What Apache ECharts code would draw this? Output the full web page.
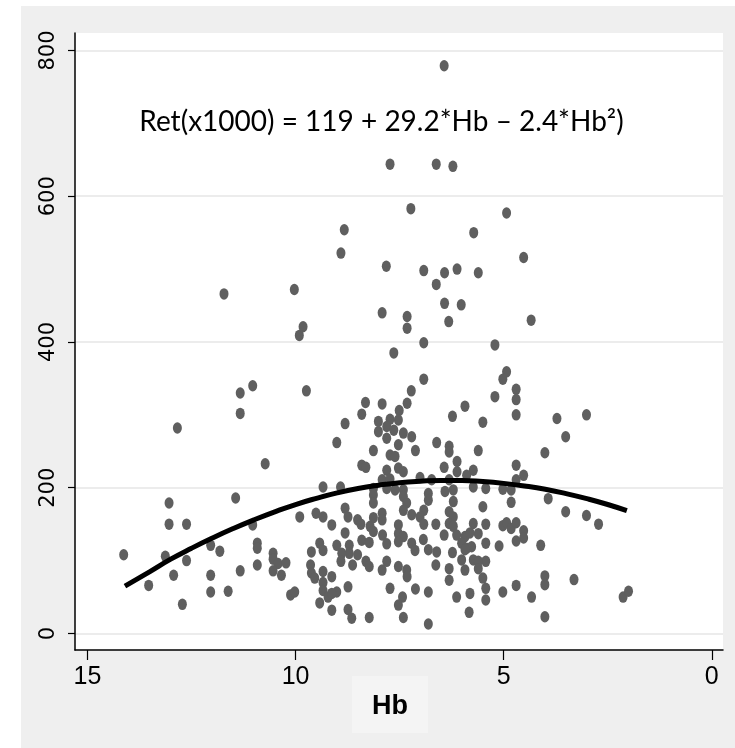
<!DOCTYPE html>
<html><head><meta charset="utf-8">
<script src="https://cdn.jsdelivr.net/npm/echarts@6/dist/echarts.min.js"></script>
<style>
html,body{margin:0;padding:0;background:#ffffff;width:735px;height:748px;overflow:hidden}
#c{position:absolute;left:21px;top:6px;width:714px;height:742px}
</style>
</head><body><div id="c"></div>
<script>
// Tick labels
const xTicks = [0, 5, 10, 15];
const yTicks = [0, 200, 400, 600, 800];
const xTitle = 'Hb';
const equation = 'Ret(x1000) = 119 + 29.2*Hb \u2013 2.4*Hb\u00B2)';

const pointsLeft = [
 [11.03,340],[11.33,330],[11.33,302],[12.84,282],[10.73,233],[11.44,186],[13.04,179],[13.04,150],[12.62,150],[14.13,108],
 [13.13,106],[12.62,100],[12.04,121],[11.82,113],[11.03,149],[10.92,124],[10.92,117],[10.54,110],[10.54,102],[10.42,96],
 [10.23,97],[10.54,86],[10.34,80],[10.92,94],[11.33,86],[12.04,80],[12.93,80],[13.53,66],[12.04,57],[11.62,58],
 [12.72,40],[10.12,53],[10.02,57],[9.90,160],[11.72,466],[10.03,472],[9.91,409],[9.82,421]
];
const pointsTop = [
 [7.73,644],[6.62,644],[6.22,641],[7.23,583],[4.93,577],[8.83,554],[5.72,550],[8.91,522],[4.52,516],[7.82,504],
 [6.92,498],[6.42,495],[6.12,500],[5.61,495],[6.62,479],[6.42,453],[6.02,451],[7.92,440],[7.32,435],[7.32,419],
 [6.32,428],[4.34,430],[6.92,399],[5.21,396],[7.64,385],[4.93,359],[5.02,349],[6.92,349],[9.74,333],[7.22,333],
 [4.70,335],[6.43,779]
];
const pointsRight = [
 [4.70,321],[5.21,325],[4.70,300],[5.50,290],[3.72,295],[3.01,300],[3.51,270],[4.01,248],[4.70,231],[4.52,217],
 [4.70,211],[5.43,199],[5.02,198],[4.82,197],[3.93,185],[5.50,174],[4.82,180],[3.51,167],[3.01,162],[2.72,150],
 [5.43,150],[5.02,148],[4.93,152],[4.82,144],[4.70,152],[4.52,141],[4.52,131],[4.70,127],[5.43,124],[5.11,120],
 [4.11,121],[5.43,99],[5.50,76],[5.43,62],[5.43,46],[5.02,57],[4.70,66],[4.33,50],[4.01,79],[4.01,67],
 [3.31,74],[4.01,23],[2.13,50],[2.00,58]
];
const pointsCentre = [
 [8.32,317],[7.92,315],[7.32,316],[7.51,306],[8.41,301],[5.93,312],[6.23,298],[8.81,288],[8.01,291],[7.73,294],
 [7.53,293],[8.01,277],[7.81,284],[7.64,279],[7.81,268],[7.41,275],[7.21,270],[7.53,259],[9.01,262],[6.61,262],
 [6.31,257],[6.31,249],[5.61,251],[8.13,251],[7.12,251],[7.73,245],[7.61,243],[6.12,236],[8.41,231],[8.31,228],
 [6.43,228],[7.81,224],[7.53,227],[7.41,222],[6.12,222],[5.73,224],[5.89,217],[7.92,211],[7.73,212],[7.01,214],
 [6.73,211],[6.31,211],[9.34,201],[8.92,201],[8.13,199],[7.81,199],[7.61,197],[7.41,197],[6.41,195],[6.21,197],
 [5.73,201],[8.13,190],[7.41,188],[7.33,179],[6.81,192],[6.81,183],[6.21,181],[8.13,179],[8.81,172],[9.51,165],
 [9.34,160],[9.13,149],[8.74,160],[8.51,156],[8.43,150],[8.13,159],[7.92,165],[7.92,156],[7.41,169],[7.21,163],
 [6.92,169],[7.01,160],[6.92,150],[6.63,150],[6.31,167],[6.21,160],[6.31,151],[6.21,147],[5.73,151],[8.81,138],
 [8.41,128],[8.21,147],[8.13,140],[7.91,135],[7.53,149],[7.53,137],[7.41,133],[6.93,129],[6.43,135],[6.13,135],
 [5.93,133],[5.81,138],[5.61,137],[6.01,124],[5.89,117],[5.77,119],[9.42,124],[9.62,112],[9.34,114],[9.01,121],
 [8.89,110],[8.71,121],[8.71,110],[8.23,125],[7.81,123],[7.53,126],[7.21,124],[7.13,114],[6.81,115],[6.61,112],
 [6.23,111],[5.93,115],[6.01,101],[5.73,101],[5.61,99],[8.91,99],[8.63,94],[8.51,108],[8.31,99],[8.23,92],
 [7.92,87],[7.81,99],[7.53,92],[7.33,87],[7.32,78],[6.63,94],[6.31,89],[5.93,87],[5.61,89],[9.64,94],
 [9.62,83],[9.54,76],[9.34,85],[9.34,70],[9.13,78],[9.34,59],[9.22,50],[9.01,57],[9.13,55],[8.74,64],
 [7.73,62],[7.43,50],[7.53,39],[7.12,61],[6.81,57],[6.31,73],[5.81,55],[6.13,50],[5.83,29],[9.42,42],
 [9.13,32],[8.74,33],[8.65,21],[8.23,22],[7.41,22],[6.81,13]
];

// Fitted curve
const curveHb  = [14.1,13.5,13,12.5,12,11.5,11,10.5,10,9.5,9,8.5,8,7.5,7,6.5,6,5.5,5,4.5,4,3.5,3,2.5,2.04];
const curveRet = [65,85,102,117,131,144,156,167,177,185.5,193,199,203.5,207,209,210,210,208.5,206,202.5,198,192,185,177,168.5];

const scatterData = [].concat(pointsLeft, pointsTop, pointsRight, pointsCentre);
const curveData = curveHb.map((h, i) => [h, curveRet[i]]);

const TICK_FONT = "'Liberation Sans Narrow','Liberation Sans',Arial,sans-serif";
const chart = echarts.init(document.getElementById('c'), null, {renderer: 'canvas'});
chart.setOption({
  backgroundColor: '#efefef',
  animation: false,
  grid: {left: 54, top: 27, width: 648, height: 617, show: true, backgroundColor: '#ffffff', borderWidth: 0},
  xAxis: {
    type: 'value', inverse: true, min: -0.27, max: 15.3,
    axisLine: {show: true, onZero: false, lineStyle: {color: '#000', width: 1.5}},
    axisTick: {show: true, length: 10, customValues: xTicks, lineStyle: {color: '#000', width: 1.2}},
    axisLabel: {customValues: xTicks, margin: 15, color: '#000', fontFamily: TICK_FONT, fontSize: 25},
    splitLine: {show: false}
  },
  yAxis: {
    type: 'value', min: -22.64, max: 824,
    axisLine: {show: true, onZero: false, lineStyle: {color: '#000', width: 1.5}},
    axisTick: {show: true, length: 7, customValues: yTicks, lineStyle: {color: '#000', width: 1.2}},
    axisLabel: {customValues: yTicks, rotate: 90, margin: 16, color: '#000', fontFamily: 'DejaVu Sans', fontSize: 21},
    splitLine: {show: true, lineStyle: {color: '#e6e6e6', width: 1.5}}
  },
  series: [
    {type: 'scatter', data: scatterData, symbol: 'circle', symbolSize: [9, 11.5],
     itemStyle: {color: '#5f5f5f', opacity: 1}, z: 2, silent: true},
    {type: 'line', data: curveData, smooth: true, showSymbol: false, symbol: 'none',
     lineStyle: {color: '#000', width: 5}, z: 3, silent: true}
  ],
  graphic: [
    {type: 'text', x: 360.5, y: 116, z: 10,
     style: {text: equation, fill: '#000', font: "28px Lato, 'Open Sans', sans-serif", textAlign: 'center', textVerticalAlign: 'middle'}},
    {type: 'rect', x: 331, y: 670, z: 5, shape: {width: 76, height: 57}, style: {fill: '#f4f4f4'}},
    {type: 'text', x: 369, y: 701, z: 10,
     style: {text: xTitle, fill: '#000', font: "bold 27px 'Liberation Sans', Arial, sans-serif", textAlign: 'center', textVerticalAlign: 'middle'}}
  ]
});
</script>
</body></html>
